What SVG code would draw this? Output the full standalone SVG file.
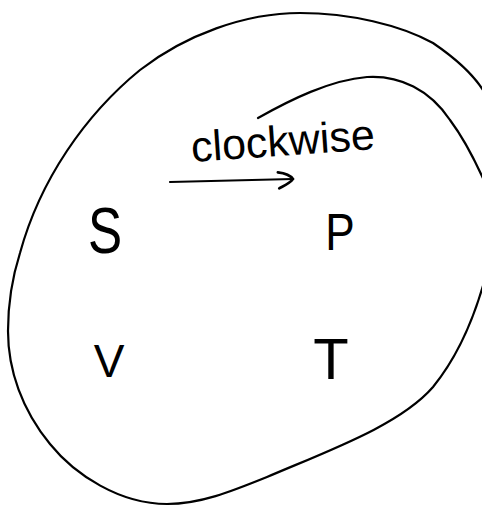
<svg xmlns="http://www.w3.org/2000/svg" width="482" height="508" viewBox="0 0 482 508">
<style>
.ln{fill:none;stroke:#000;stroke-width:2.2;stroke-linecap:round;stroke-linejoin:round}
.lt{font-family:"Liberation Sans",Arial,sans-serif;fill:#000;text-anchor:middle}
</style>
<defs>
<marker id="hook" markerWidth="24" markerHeight="24" refX="18" refY="8" orient="auto" markerUnits="userSpaceOnUse">
<path d="M3 1 C10 2,16 5,18 8 C15 12,10 14,4 17" fill="none" stroke="#000" stroke-width="2.6" stroke-linecap="round"/>
</marker>
</defs>
<rect width="482" height="508" fill="#fff"/>
<g id="connectors">
<path class="ln" d="M486 275 C474 320,455 360,433 387 C400 425,330 450,267 477 C230 492,200 504,167 504 C120 504,75 475,50 444 C22 410,8 370,8 331 C8 300,13 275,20 253 C40 180,85 115,140 70 C185 35,245 13,300 13 C350 13,400 25,433 43 C455 58,475 75,486 95"/>
<path class="ln" d="M258 118 C290 100,330 80,367 77 C400 75,430 90,450 120 C465 140,475 160,486 185"/>
<path class="ln" d="M170 182 L293 179" stroke-width="2.8" marker-end="url(#hook)"/>
</g>
<g id="label-clockwise">
<text class="lt" x="192" y="162" font-size="43" text-anchor="start" transform="rotate(-4 192 162)" style="text-anchor:start">clockwise</text>
</g>
<g id="node-S"><text class="lt" font-size="64" transform="translate(105 253) scale(0.8 1)">S</text></g>
<g id="node-P"><text class="lt" font-size="52" transform="translate(340 250) scale(0.85 1)">P</text></g>
<g id="node-V"><text class="lt" font-size="46" transform="translate(109 377)">V</text></g>
<g id="node-T"><text class="lt" font-size="58" transform="translate(331 379)">T</text></g>
</svg>
